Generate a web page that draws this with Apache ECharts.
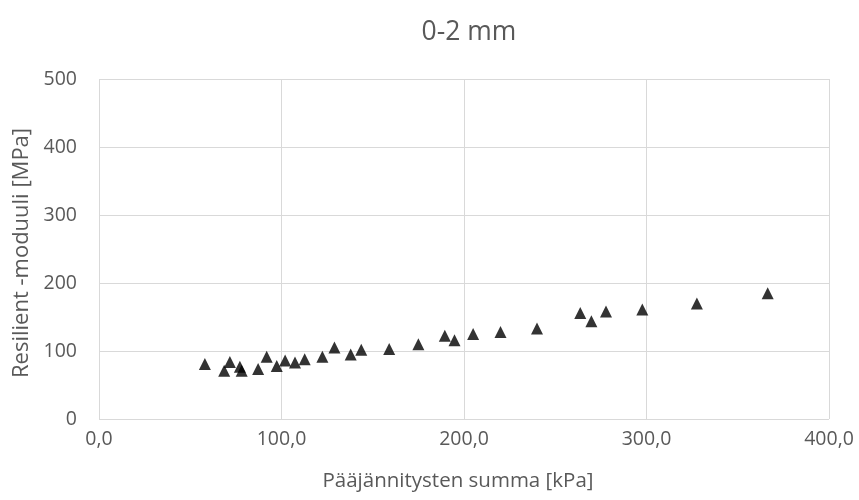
<!DOCTYPE html>
<html><head><meta charset="utf-8">
<script src="https://cdn.jsdelivr.net/npm/echarts@6/dist/echarts.min.js"></script>
<style>html,body{margin:0;padding:0;background:#fff}#c{width:859px;height:500px}</style>
</head><body><div id="c"></div>
<script>
var titleText = "0-2 mm";
var xName = "Pääjännitysten summa [kPa]";
var yName = "Resilient -moduuli [MPa]";
var xValues = [58, 71.7, 68.6, 77.2, 78.2, 87.2, 91.9, 97.4, 102, 107.4, 112.7, 122.4, 129, 137.9, 143.7, 159, 175, 189.5, 194.8, 205, 220, 240, 263.7, 269.8, 277.8, 297.7, 327.6, 366.4];
var yValues = [81, 84, 71, 77, 71, 73.5, 91.6, 78, 86, 83, 88, 91.6, 105, 95, 102, 103, 110, 122.5, 115.7, 125, 128, 133, 156, 143.6, 158, 161, 170, 185];
var data = xValues.map(function(x, i){ return [x, yValues[i]]; });
var font = "'Open Sans', 'Noto Sans', sans-serif";
var chart = echarts.init(document.getElementById('c'));
chart.setOption({
  animation: false,
  title: { text: titleText, left: 464, textAlign: 'center', top: 14, textStyle: { color: '#595959', fontSize: 26.5, fontWeight: 'normal', fontFamily: font } },
  grid: { left: 99, right: 30, top: 79, bottom: 81 },
  xAxis: {
    type: 'value', min: 0, max: 400, interval: 100,
    name: xName, nameLocation: 'middle', nameGap: 52,
    nameTextStyle: { color: '#595959', fontSize: 20.5, fontFamily: font, padding: [0, 12, 0, 0] },
    axisLine: { show: false }, axisTick: { show: false },
    axisLabel: { color: '#595959', fontSize: 19.5, fontFamily: font, margin: 10,
      formatter: function(v){ return v.toFixed(1).replace('.', ','); } },
    splitLine: { show: true, lineStyle: { color: '#d9d9d9', width: 1 } }
  },
  yAxis: {
    type: 'value', min: 0, max: 500, interval: 100,
    name: yName, nameLocation: 'middle', nameGap: 52,
    nameTextStyle: { color: '#595959', fontSize: 22, fontFamily: font, padding: [0, 8, 0, 0] },
    axisLine: { show: false }, axisTick: { show: false },
    axisLabel: { color: '#595959', fontSize: 19.5, fontFamily: font, margin: 22 },
    splitLine: { show: true, lineStyle: { color: '#d9d9d9', width: 1 } }
  },
  series: [{
    type: 'scatter', symbol: 'triangle', symbolSize: 12,
    itemStyle: { color: '#000000' },
    data: data
  }]
});
</script></body></html>
